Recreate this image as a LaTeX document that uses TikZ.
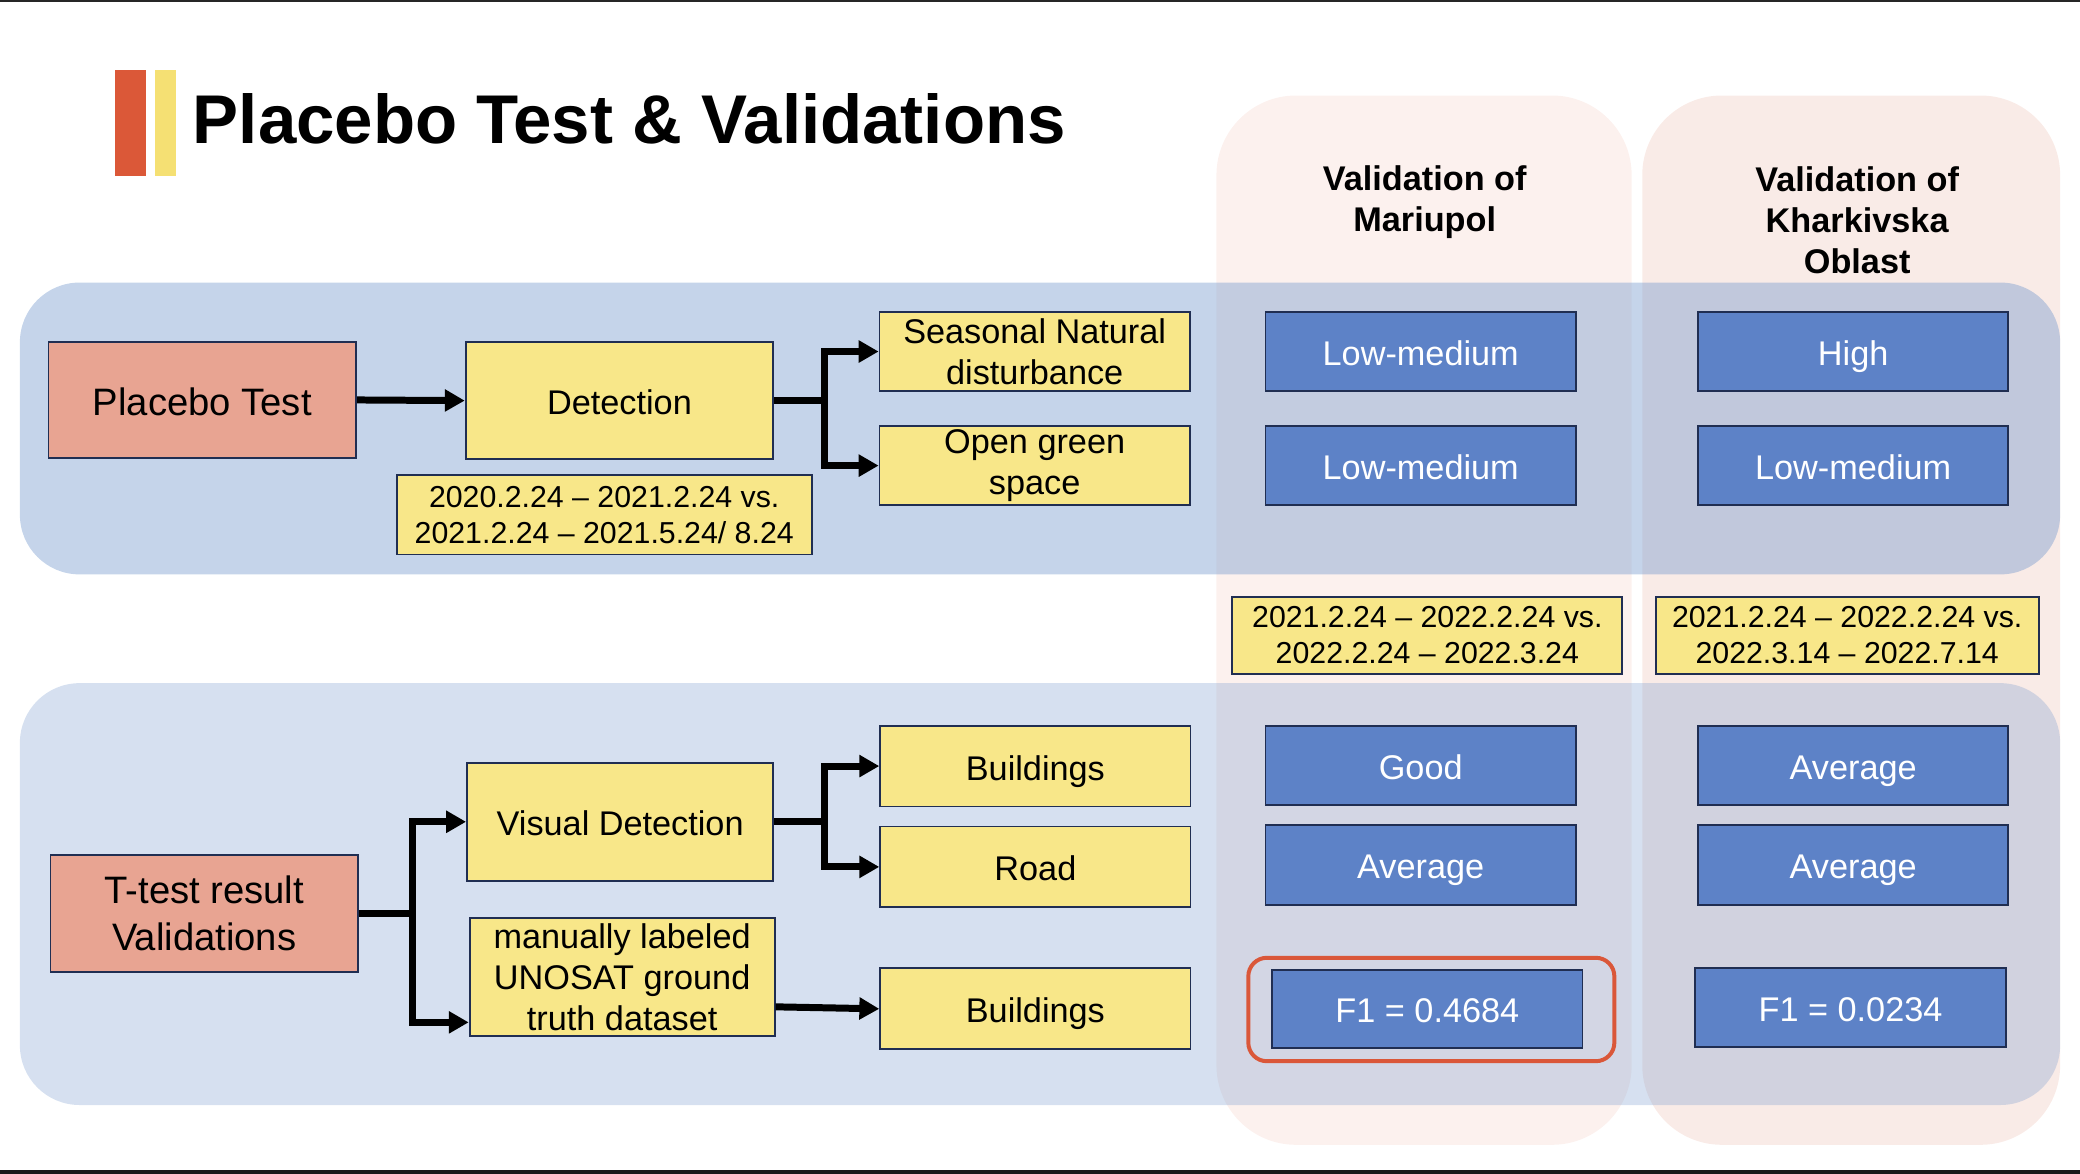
\documentclass[tikz,border=0pt]{standalone}
\usepackage{fontspec}
\setmainfont{Liberation Sans}
\usetikzlibrary{arrows.meta,calc}
\definecolor{salmon}{RGB}{232,164,146}
\definecolor{boxyellow}{RGB}{248,231,137}
\definecolor{boxblue}{RGB}{93,130,199}
\definecolor{boxline}{RGB}{32,46,82}
\definecolor{bandblue}{RGB}{126,159,208}
\definecolor{colpinkA}{RGB}{252,241,238}
\definecolor{colpinkB}{RGB}{249,235,231}
\definecolor{hlred}{RGB}{218,87,57}
\definecolor{barorange}{RGB}{219,88,56}
\definecolor{baryellow}{RGB}{245,224,115}
\newcommand\lblfont{\fontsize{14.7pt}{17.6pt}\selectfont}
\newcommand\bigfont{\fontsize{16.4pt}{19.8pt}\selectfont}
\newcommand\datefont{\fontsize{13pt}{15.4pt}\selectfont}
\newcommand\headfont{\fontsize{14.7pt}{17.6pt}\selectfont\bfseries}
\newcommand\ttlfont{\fontsize{29.6pt}{34pt}\selectfont\bfseries}
\begin{document}
\begin{tikzpicture}[x=0.02cm,y=-0.02cm,
  box/.style={draw=boxline,line width=0.8pt,inner sep=0pt,align=center,
    minimum width=4.68cm,minimum height=1.2cm,font=\lblfont},
  oneline/.style={text height=13.5pt,text depth=1.5pt},
  redbox/.style={box,fill=salmon,minimum width=4.64cm,minimum height=1.76cm,font=\bigfont},
  yelbox/.style={box,fill=boxyellow},
  bluebox/.style={box,oneline,fill=boxblue,text=white},
  datebox/.style={box,fill=boxyellow,minimum height=1.16cm,font=\datefont},
  flow/.style={line width=3pt,-{Triangle[length=0.3cm,width=0.32cm]}},
  band/.style={fill=bandblue,rounded corners=0.9cm},
  column/.style={rounded corners=1.2cm}]
\useasboundingbox (0,0) rectangle (1568,885);
\fill[black!85] (0,0) rectangle (1568,1.5);
\fill[black!90] (0,882) rectangle (1568,885);
%
\fill[barorange] (87,53) rectangle (110,133);
\fill[baryellow] (117,53) rectangle (133,133);
\node[anchor=base west,inner sep=0pt,font=\ttlfont] (title) at (145,108.5) {Placebo Test \& Validations};
%
\fill[colpinkA,column] (917,72) rectangle (1230,863);
\fill[colpinkB,column] (1238,72) rectangle (1553,863);
\fill[band,fill opacity=0.45] (15,213) rectangle (1553,433);
\fill[band,fill opacity=0.32] (15,515) rectangle (1553,833);
%
\node[font=\headfont,align=center,inner sep=0pt] (headM) at (1074,152.5) {Validation of\\Mariupol};
\node[font=\headfont,align=center,inner sep=0pt] (headK) at (1400,166) {Validation of\\Kharkivska\\Oblast};
%
\node[redbox,text height=14.5pt,text depth=1.5pt] (placebo) at (152.5,301.5) {Placebo Test};
\node[yelbox,oneline,minimum width=4.64cm,minimum height=1.76cm] (detect) at (467,302) {Detection};
\node[datebox,minimum width=6.26cm,minimum height=1.2cm] (dateP) at (455.5,388) {2020.2.24 -- 2021.2.24 vs.\\2021.2.24 -- 2021.5.24/ 8.24};
\node[yelbox] (seasonal) at (780,265) {Seasonal Natural\\disturbance};
\node[yelbox] (green) at (780,351) {Open green\\space};
%
\node[bluebox] (seasonM) at (1071,265) {Low-medium};
\node[bluebox] (greenM) at (1071,351) {Low-medium};
\node[bluebox] (seasonK) at (1397,265) {High};
\node[bluebox] (greenK) at (1397,351) {Low-medium};
%
\node[datebox,minimum width=5.88cm] (dateM) at (1076,479) {2021.2.24 -- 2022.2.24 vs.\\2022.2.24 -- 2022.3.24};
\node[datebox,minimum width=5.78cm] (dateK) at (1392.5,479) {2021.2.24 -- 2022.2.24 vs.\\2022.3.14 -- 2022.7.14};
%
\node[redbox] (ttest) at (154,688.5) {T-test result\\Validations};
\node[yelbox,oneline,minimum width=4.62cm,minimum height=1.78cm] (visual) at (467.5,619.5) {Visual Detection};
\node[yelbox,minimum width=4.6cm,minimum height=1.78cm] (manual) at (469,736.5) {manually labeled\\UNOSAT ground\\truth dataset};
\node[yelbox,oneline,minimum height=1.22cm] (bldA) at (780.5,577.5) {Buildings};
\node[yelbox,oneline,minimum height=1.22cm] (road) at (780.5,653.5) {Road};
\node[yelbox,oneline,minimum height=1.22cm] (bldB) at (780.5,760.5) {Buildings};
%
\node[bluebox] (bldAM) at (1071,577) {Good};
\node[bluebox] (roadM) at (1071,652) {Average};
\node[bluebox,minimum height=1.18cm] (bldBM) at (1076,760.5) {F1 = 0.4684};
\node[bluebox] (bldAK) at (1397,577) {Average};
\node[bluebox] (roadK) at (1397,652) {Average};
\node[bluebox,minimum height=1.18cm] (bldBK) at (1395,759.5) {F1 = 0.0234};
\node[draw=hlred,line width=1.7pt,rounded corners=0.28cm,minimum width=5.52cm,minimum height=1.56cm] (hl) at (1079,761) {};
%
\draw[flow] (placebo.east) -- (detect.west);
\draw[flow] (detect.east) -- ++(38,0) |- (seasonal.west);
\draw[flow] (detect.east) -- ++(38,0) |- (green.west);
\draw[flow] (ttest.east) -- ++(40,0) |- (visual.west);
\draw[flow] (ttest.east) -- ++(40,0) |- ($(manual.south west)+(0,-11)$);
\draw[flow] (visual.east) -- ++(38,0) |- (bldA.west);
\draw[flow] (visual.east) -- ++(38,0) |- (road.west);
\draw[flow] ($(manual.east)+(0,22.5)$) -- (bldB.west);
\end{tikzpicture}
\end{document}
